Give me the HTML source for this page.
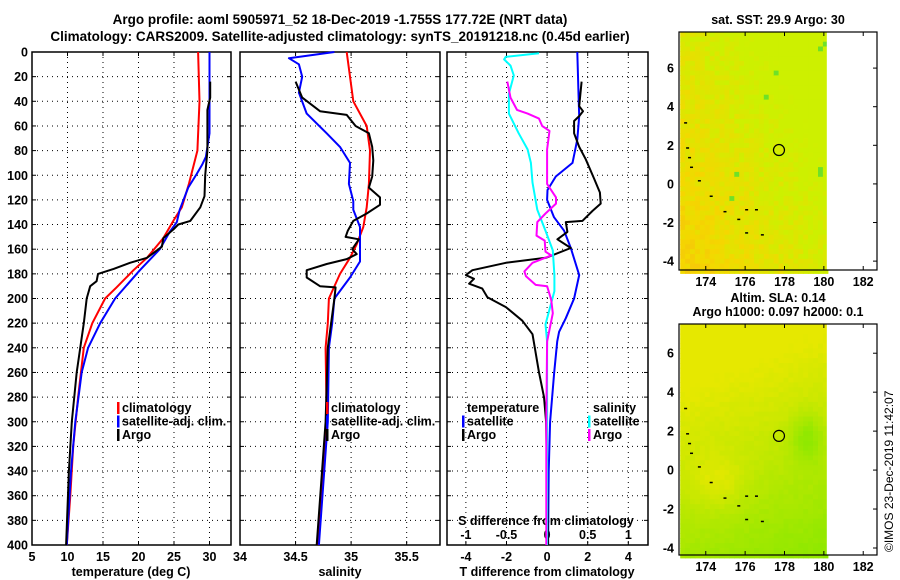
<!DOCTYPE html>
<html><head><meta charset="utf-8"><style>
body{margin:0;background:#fff;}
svg{display:block;font-family:"Liberation Sans",sans-serif;font-weight:bold;font-size:12.5px;}
</style></head><body>
<svg id="c" width="900" height="580" viewBox="0 0 900 580">
<text x="340" y="24" text-anchor="middle" font-size="13.5">Argo profile: aoml 5905971_52 18-Dec-2019 -1.755S 177.72E (NRT data)</text>
<text x="340" y="41" text-anchor="middle" font-size="13.5">Climatology: CARS2009. Satellite-adjusted climatology: synTS_20191218.nc (0.45d earlier)</text>
<g id="p1"></g>
<g id="p2"></g>
<g id="p3"></g>
<g id="m1"></g>
<g id="m2"></g>
<text transform="translate(893,552) rotate(-90)" font-size="12" font-weight="normal">©IMOS 23-Dec-2019 11:42:07</text>
</svg>
<script>
// ---- data ----
const depthTicks=[0,20,40,60,80,100,120,140,160,180,200,220,240,260,280,300,320,340,360,380,400];
const tTicks=[5,10,15,20,25,30];
const sTicks=[34,34.5,35,35.5];
const dTTicks=[-4,-2,0,2,4];
const dSTicks=[-1,-0.5,0,0.5,1];
const dSTickLabels=["-1","-0.5","0","0.5","1"];
// temperature profiles [depth, value]
const tClimD=[0,40,80,107,126,137,151,167,177,191,200,220,240,280,320,360,400];
const tClimV=[28.4,28.6,28.3,27.1,26.1,24.9,23.5,21.2,19.3,16.9,15.3,13.5,12.3,11.5,10.8,10.4,9.9];
const tSatD=[0,66,85,91,99,110,128,138,146,160,177,200,220,240,260,300,340,400];
const tSatV=[30.0,30.0,29.5,29.0,28.2,27.0,25.8,25.4,24.4,23.0,20.2,16.7,14.6,12.9,12.0,11.1,10.5,9.9];
const tArgoD=[24,37,47,80,100,117,126,137,140,144,151,158,167,171,176,180,186,190,200,220,260,300,340,400];
const tArgoV=[30.1,30.1,29.7,29.7,29.4,29.3,28.7,27.3,25.6,24.9,23.5,23.3,21.2,18.8,16.5,14.3,14.1,13.2,12.7,12.3,11.3,10.6,10.2,9.8];
// salinity profiles
const sClimD=[0,40,60,80,107,126,142,156,167,180,200,220,240,300,340,400];
const sClimV=[34.96,35.02,35.14,35.17,35.16,35.14,35.11,35.05,34.99,34.90,34.80,34.79,34.77,34.78,34.75,34.70];
const sSatD=[0,5,10,20,33,50,66,77,90,107,121,128,142,170,183,200,220,240,300,400];
const sSatV=[34.85,34.44,34.53,34.56,34.53,34.60,34.78,34.90,34.99,34.98,35.02,35.02,35.08,35.08,34.99,34.85,34.83,34.80,34.79,34.71];
const sArgoD=[24,37,48,51,60,66,77,88,101,110,118,124,131,137,145,150,152,160,164,168,172,177,183,190,191,200,220,240,300,400];
const sArgoV=[34.50,34.56,34.72,34.96,35.04,35.16,35.19,35.20,35.19,35.16,35.26,35.26,35.14,35.02,34.97,34.95,35.07,35.01,35.05,34.96,34.78,34.60,34.60,34.72,34.86,34.85,34.82,34.79,34.77,34.69];
// differences
const dTSatD=[0,31,52,71,90,101,112,120,134,145,159,181,200,216,227,235,260,300,340,400];
const dTSatV=[1.49,1.54,1.58,1.49,1.25,0.43,0.02,0,0.34,0.84,1.17,1.58,1.33,0.92,0.59,0.5,0.35,0.15,0.08,0.05];
const dTArgoD=[24,44,48,52,56,66,77,87,103,114,123,129,137,138,146,152,159,167,171,177,181,184,188,192,199,207,218,229,260,280,300,400];
const dTArgoV=[1.7,1.58,1.77,1.58,1.33,1.33,1.58,1.9,2.32,2.6,2.64,2.23,1.74,0.92,1.0,0.51,1.17,-0.06,-2.03,-3.68,-4.0,-3.6,-3.84,-3.19,-2.94,-2.03,-1.22,-0.72,-0.4,-0.15,-0.05,0.05];
const dSSatD=[1,4,6,11,19,34,50,66,79,90,106,128,145,161,181,194,221,235,300,400];
const dSSatV=[-0.10,-0.51,-0.53,-0.45,-0.41,-0.47,-0.47,-0.35,-0.24,-0.20,-0.18,-0.12,-0.02,0.07,0.09,0.09,-0.02,0,0.0,0.0];
const dSArgoD=[24,37,47,50,54,60,64,79,107,118,123,131,138,149,153,162,165,171,178,182,189,190,201,212,235,300,400];
const dSArgoV=[-0.49,-0.45,-0.37,-0.24,-0.10,-0.06,0.03,0,0,0.11,0.11,-0.02,-0.12,-0.13,-0.03,-0.02,0.05,-0.18,-0.28,-0.26,-0.14,0,0.05,0.07,0,-0.01,-0.01];
const latTicks=[-4,-2,0,2,4,6];
const lonTicks=[174,176,178,180,182];
const argoLon=177.72, argoLat=1.755;

const NS="http://www.w3.org/2000/svg";
function mk(parent,tag,attrs,txt){const e=document.createElementNS(NS,tag);for(const k in attrs)e.setAttribute(k,attrs[k]);if(txt!==undefined)e.textContent=txt;parent.appendChild(e);return e;}
const Y0=52,Y1=545;
const yD=d=>Y0+(d-0)/400*(Y1-Y0);

function panel(g,x0,x1,xmin,xmax){
  const xs=v=>x0+(v-xmin)/(xmax-xmin)*(x1-x0);
  return xs;
}
function frame(g,x0,x1,withLabels){
  for(const d of depthTicks){
    const y=yD(d);
    if(d>0&&d<400){const l=mk(g,'line',{x1:x0,x2:x1,y1:y,y2:y,stroke:'#000','stroke-width':1,'stroke-dasharray':'1,4'});
    }
    mk(g,'line',{x1:x0,x2:x0+4,y1:y,y2:y,stroke:'#000'});
    mk(g,'line',{x1:x1-4,x2:x1,y1:y,y2:y,stroke:'#000'});
    if(withLabels){const t=mk(g,'text',{x:x0-4,y:y+4.5,'text-anchor':'end'},String(d));
    }
  }
  const r=mk(g,'rect',{x:x0,y:Y0,width:x1-x0,height:Y1-Y0,fill:'none',stroke:'#000','stroke-width':1.5});
  
}
function vgrid(g,xs,ticks,labels,yl,x0,x1,top){
  ticks.forEach((v,i)=>{const x=xs(v);
    if(x>x0+1&&x<x1-1){const l=mk(g,'line',{x1:x,x2:x,y1:Y0,y2:Y1,stroke:'#000','stroke-dasharray':'1,4'});
    }
    mk(g,'line',{x1:x,x2:x,y1:Y1-4,y2:Y1,stroke:'#000'});mk(g,'line',{x1:x,x2:x,y1:Y0,y2:Y0+4,stroke:'#000'});
    const t=mk(g,'text',{x:x,y:yl,'text-anchor':'middle'},labels[i]);
    
  });
}
function line(g,xs,D,V,color,w,name){
  const pts=D.map((d,i)=>xs(V[i]).toFixed(1)+','+yD(d).toFixed(1)).join(' ');
  const p=mk(g,'polyline',{points:pts,fill:'none',stroke:color,'stroke-width':w,'stroke-linejoin':'round'});
  
}
function legend(g,x,y,items){
  items.forEach((it,i)=>{const yy=y+i*13.5;
    mk(g,'rect',{x:x,y:yy-10,width:2.5,height:12,fill:it[1]});
    const t=mk(g,'text',{x:x+5,y:yy},it[0]);
    });
}
// Panel 1
{const g=document.getElementById('p1');const x0=32,x1=231;const xs=panel(g,x0,x1,5,33.03);
 frame(g,x0,x1,true);vgrid(g,xs,tTicks,tTicks.map(String),561,x0,x1);
 line(g,xs,tClimD,tClimV,'#f00',2,'temperature-climatology-line');
 line(g,xs,tSatD,tSatV,'#00f',2,'temperature-satellite-line');
 line(g,xs,tArgoD,tArgoV,'#000',2,'temperature-argo-line');
 legend(g,117,412,[['climatology','#f00'],['satellite-adj. clim.','#00f'],['Argo','#000']]);
 const t=mk(g,'text',{x:131,y:576,'text-anchor':'middle'},'temperature (deg C)');}
// Panel 2
{const g=document.getElementById('p2');const x0=240,x1=440;const xs=panel(g,x0,x1,34,35.8);
 frame(g,x0,x1,false);vgrid(g,xs,sTicks,sTicks.map(String),561,x0,x1);
 line(g,xs,sClimD,sClimV,'#f00',2,'salinity-climatology-line');
 line(g,xs,sSatD,sSatV,'#00f',2,'salinity-satellite-line');
 line(g,xs,sArgoD,sArgoV,'#000',2,'salinity-argo-line');
 legend(g,326,412,[['climatology','#f00'],['satellite-adj. clim.','#00f'],['Argo','#000']]);
 const t=mk(g,'text',{x:340,y:576,'text-anchor':'middle'},'salinity');}
// Panel 3
{const g=document.getElementById('p3');const x0=447,x1=648;const xs=panel(g,x0,x1,-4.93,4.97);const xS=v=>xs(v*4);
 frame(g,x0,x1,false);vgrid(g,xs,dTTicks,dTTicks.map(String),561,x0,x1);
 dSTicks.forEach((v,i)=>{const t=mk(g,'text',{x:xS(v),y:539,'text-anchor':'middle'},dSTickLabels[i]);});
 const st=mk(g,'text',{x:546,y:525,'text-anchor':'middle'},'S difference from climatology');
 line(g,xs,dTSatD,dTSatV,'#00f',2,'t-diff-satellite-line');
 line(g,xs,dTArgoD,dTArgoV,'#000',2,'t-diff-argo-line');
 line(g,xS,dSSatD,dSSatV,'#0ff',2,'s-diff-satellite-line');
 line(g,xS,dSArgoD,dSArgoV,'#f0f',2,'s-diff-argo-line');
 const a=mk(g,'text',{x:467,y:412},'temperature');
 legend(g,462,425.5,[['satellite','#00f'],['Argo','#000']]);
 const b=mk(g,'text',{x:593,y:412},'salinity');
 legend(g,588,425.5,[['satellite','#0ff'],['Argo','#f0f']]);
 const t=mk(g,'text',{x:547,y:576,'text-anchor':'middle'},'T difference from climatology');}
// Maps
function hash(i,j){let h=(i*374761393+j*668265263)>>>0;h=(h^(h>>>13))*1274126177>>>0;return ((h^(h>>>16))>>>0)/4294967295;}
function mix(a,b,t){return a.map((v,i)=>Math.round(v+(b[i]-v)*t));}
function map(id,top,bot,latTop,latBot,title,titleY,kind){
  const g=document.getElementById(id);const x0=679,x1=877;
  const xs=l=>x0+(l-172.64)/(182.7-172.64)*(x1-x0);
  const ys=l=>top+(latTop-l)/(latTop-latBot)*(bot-top);
  title.forEach((s,i)=>{const t=mk(g,'text',{x:778,y:titleY+i*14,'text-anchor':'middle'},s);});
  const cell=0.25;const dx=xs(172.64+cell)-xs(172.64),dy=ys(0)-ys(cell);
  const cg=mk(g,'g',{});
  for(let i=0;i*cell<180.12-172.7;i++){for(let j=0;j*cell<latTop-latBot;j++){
    const lon=172.7+i*cell,lat=latTop-j*cell;let c;const r=hash(i+(kind?99:0),j);
    if(kind===0){let t=0.78+(lon-176)*0.07+(lat)*0.035+(r-0.5)*0.3;t=Math.max(0,Math.min(1,t));
      c=t<0.5?mix([245,180,20],[245,215,0],t*2):mix([245,215,0],[205,240,0],(t-0.5)*2);
      if(r>0.996)c=[110,225,40];}
    else{let t=0.45+(lon-176)*0.03+(-lat-1)*0.07+Math.exp(-((lon-179)**2/0.6+(lat-1.8)**2/1.5))*0.45+Math.exp(-((lon-174.5)**2+(lat+0.5)**2)/2)*(-0.3)+(r-0.5)*0.08;
      t=Math.max(0,Math.min(1,t));c=mix([230,232,0],[120,232,0],t);}
    mk(cg,'rect',{x:xs(lon).toFixed(1),y:ys(lat).toFixed(1),width:(dx+0.6).toFixed(1),height:(dy+0.6).toFixed(1),fill:`rgb(${c})`});
  }}
  mk(g,'rect',{x:xs(180.15),y:top,width:x1-xs(180.15),height:bot-top,fill:'#fff'});
  latTicks.forEach(l=>{const y=ys(l);mk(g,'line',{x1:x1-4,x2:x1,y1:y,y2:y,stroke:'#000'});
    const t=mk(g,'text',{x:x0-5,y:y+4.5,'text-anchor':'end'},String(l));});
  lonTicks.forEach(l=>{const x=xs(l);mk(g,'line',{x1:x,x2:x,y1:top,y2:top+4,stroke:'#000'});mk(g,'line',{x1:x,x2:x,y1:bot-4,y2:bot,stroke:'#000'});
    const t=mk(g,'text',{x:x,y:bot+16,'text-anchor':'middle'},String(l));});
  const f=mk(g,'rect',{x:x0,y:top,width:x1-x0,height:bot-top,fill:'none',stroke:'#000','stroke-width':1.2});
  const m=mk(g,'circle',{cx:xs(argoLon),cy:ys(argoLat),r:5.5,fill:'none',stroke:'#000','stroke-width':1.2});
  [[172.9,3.2],[173.0,1.9],[173.1,1.4],[173.2,0.9],[173.6,0.2],[174.2,-0.6],[174.9,-1.4],[175.6,-1.8],[176.0,-1.3],[176.5,-1.3],[176.0,-2.5],[176.8,-2.6]].forEach(p=>{
    const s=mk(g,'rect',{x:xs(p[0]),y:ys(p[1]),width:3,height:1.5,fill:'#000'});});
}
map('m1',32,270,7.87,-4.46,['sat. SST: 29.9 Argo: 30'],24,0);
map('m2',324,555,7.5,-4.36,['Altim. SLA: 0.14','Argo h1000: 0.097 h2000: 0.1'],302,1);
</script>
</body></html>
